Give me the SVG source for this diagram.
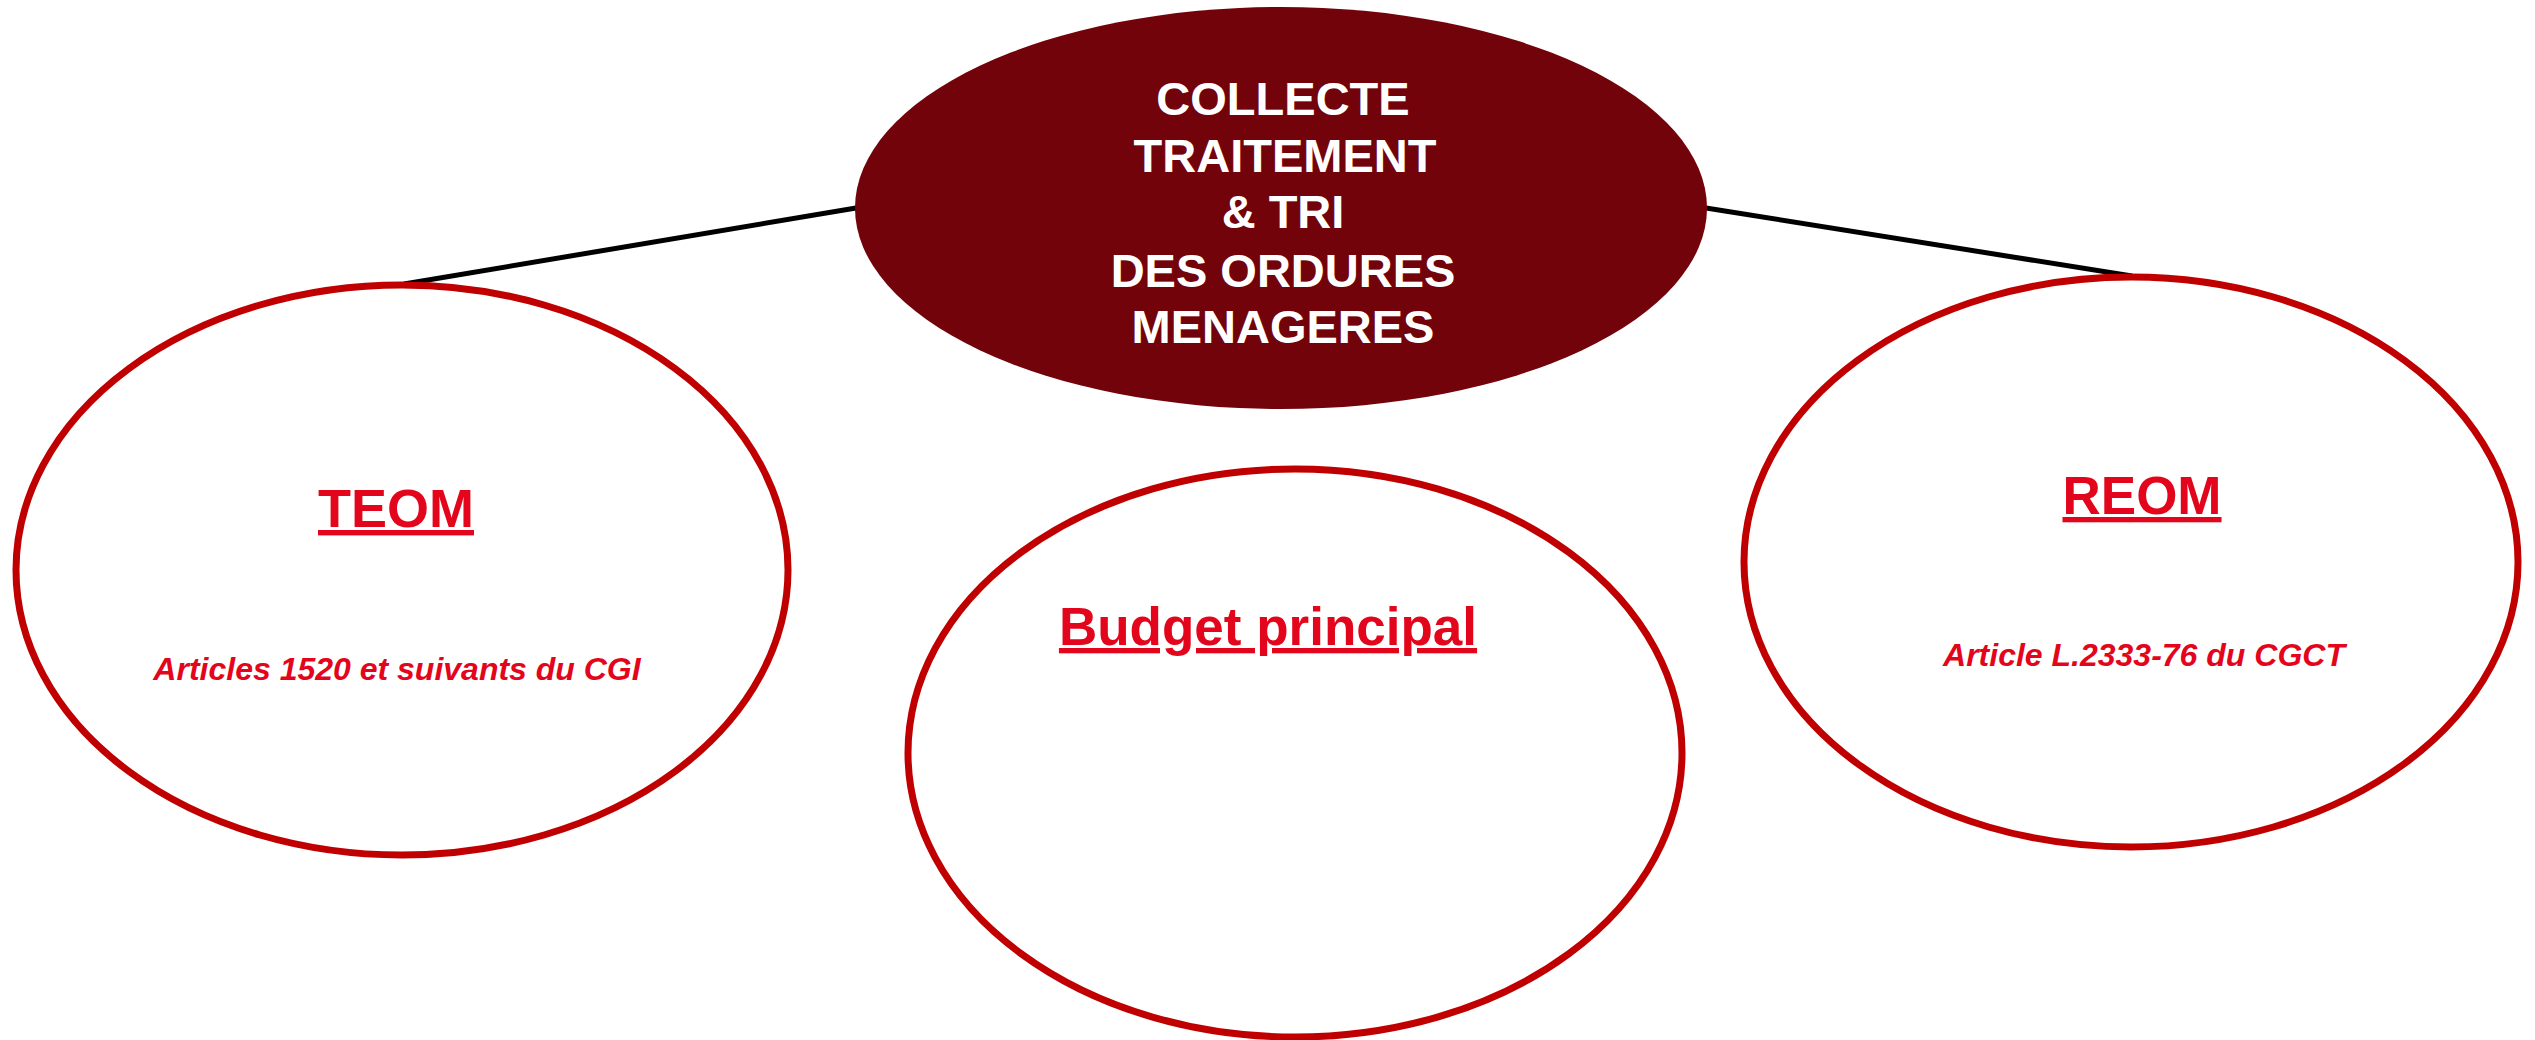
<svg xmlns="http://www.w3.org/2000/svg" width="2535" height="1040" viewBox="0 0 2535 1040">
  <style>
    .bubble { fill: #ffffff; stroke: #c00000; stroke-width: 7; }
    .hub { fill: #72030a; }
    .hub-text { font-family: "Liberation Sans", Arial, sans-serif; font-weight: bold; font-size: 47px; fill: #ffffff; text-anchor: middle; }
    .title { font-family: "Liberation Sans", Arial, sans-serif; font-weight: bold; font-size: 53px; fill: #e3051b; text-anchor: middle; text-decoration: underline; }
    .ref { font-family: "Liberation Sans", Arial, sans-serif; font-weight: bold; font-style: italic; font-size: 32px; fill: #e3051b; text-anchor: middle; }
    .link { stroke: #000000; stroke-width: 5; fill: none; }
  </style>

  <rect width="2535" height="1040" fill="#ffffff"/>

  <g id="connectors">
    <line class="link" x1="856" y1="208" x2="404" y2="284"/>
    <line class="link" x1="1706" y1="208" x2="2132" y2="276"/>
  </g>

  <g id="node-teom">
    <ellipse class="bubble" cx="402" cy="570" rx="386" ry="285"/>
    <text class="title" x="396" y="527" style="font-size:54px">TEOM</text>
    <text class="ref" x="397" y="680">Articles 1520 et suivants du CGI</text>
  </g>

  <g id="node-budget">
    <ellipse class="bubble" cx="1295" cy="753" rx="387" ry="284"/>
    <text class="title" x="1268" y="645">Budget principal</text>
  </g>

  <g id="node-reom">
    <ellipse class="bubble" cx="2131" cy="562" rx="387" ry="285"/>
    <text class="title" x="2142" y="514">REOM</text>
    <text class="ref" x="2144" y="666">Article L.2333-76 du CGCT</text>
  </g>

  <g id="node-hub">
    <ellipse class="hub" cx="1281" cy="208" rx="426" ry="201"/>
    <text class="hub-text" x="1283" y="115">COLLECTE</text>
    <text class="hub-text" x="1285" y="172">TRAITEMENT</text>
    <text class="hub-text" x="1283" y="228">&amp; TRI</text>
    <text class="hub-text" x="1283" y="287">DES ORDURES</text>
    <text class="hub-text" x="1283" y="343">MENAGERES</text>
  </g>
</svg>
